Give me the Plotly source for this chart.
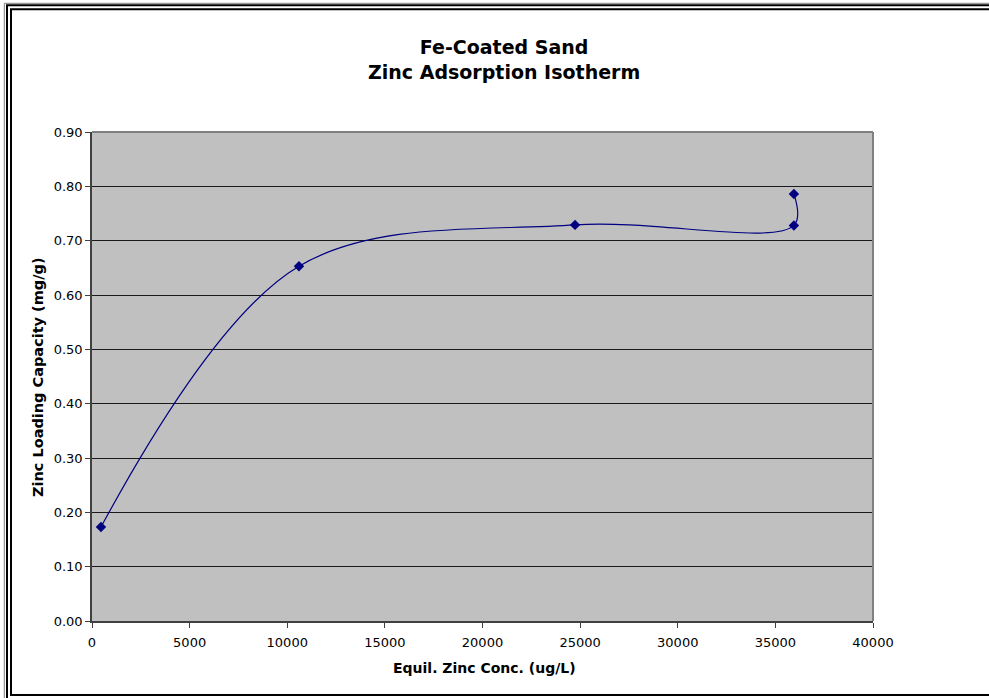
import plotly.graph_objects as go

# Equilibrium zinc concentration (ug/L) vs. zinc loading (mg/g)
equil_conc = [460, 10600, 24740, 35950, 35950]
zinc_loading = [0.173, 0.653, 0.729, 0.728, 0.786]

x_ticks = [0, 5000, 10000, 15000, 20000, 25000, 30000, 35000, 40000]
y_ticks = [0.0, 0.1, 0.2, 0.3, 0.4, 0.5, 0.6, 0.7, 0.8, 0.9]

W, H = 989, 698
L, R, T, B = 92, 873, 132, 621  # plot area in pixels
PW, PH = R - L, B - T


def px(xp):
    return (xp - L) / PW


def py(yp):
    return (B - yp) / PH


FONT = "DejaVu Sans, Arial, sans-serif"

fig = go.Figure()
fig.add_trace(go.Scatter(
    x=equil_conc, y=zinc_loading,
    mode="lines+markers",
    line=dict(color="#000080", width=1.2, shape="spline", smoothing=1.0),
    marker=dict(symbol="diamond", size=8, color="#000080"),
    showlegend=False, hoverinfo="x+y",
))

fig.update_layout(
    width=W, height=H,
    margin=dict(l=L, r=W - R, t=T, b=H - B, pad=0),
    paper_bgcolor="white",
    plot_bgcolor="#C0C0C0",
    font=dict(family=FONT, size=12.5, color="black"),
    xaxis=dict(
        range=[0, 40000], tickvals=x_ticks, ticktext=[str(v) for v in x_ticks],
        showgrid=False, zeroline=False,
        showline=True, linecolor="#404040", linewidth=1.5,
        ticks="outside", ticklen=5, tickcolor="#404040", tickwidth=1,
        ticklabelstandoff=4,
        tickfont=dict(family=FONT, size=13, color="black"),
        fixedrange=True,
    ),
    yaxis=dict(
        range=[0, 0.9], tickvals=y_ticks, ticktext=[f"{v:.2f}" for v in y_ticks],
        showgrid=True, gridcolor="#1a1a1a", gridwidth=1, zeroline=False,
        showline=True, linecolor="#404040", linewidth=1.5,
        ticks="outside", ticklen=5, tickcolor="#404040", tickwidth=1,
        tickfont=dict(family=FONT, size=13, color="black"),
        fixedrange=True,
    ),
)

shapes = []
# Plot-area frame: gray top and right edges
shapes.append(dict(type="line", xref="paper", yref="paper", x0=0, x1=1, y0=1, y1=1,
                   line=dict(color="#808080", width=2), layer="above"))
shapes.append(dict(type="line", xref="paper", yref="paper", x0=1, x1=1, y0=0, y1=1,
                   line=dict(color="#808080", width=2), layer="above"))
# Chart border: thin gray outer line and a black double line
shapes.append(dict(type="rect", xref="paper", yref="paper",
                   x0=px(4.3), x1=px(1010), y0=py(3.3), y1=py(720),
                   line=dict(color="#808080", width=1)))
shapes.append(dict(type="rect", xref="paper", yref="paper",
                   x0=px(7), x1=px(1010), y0=py(5.3), y1=py(720),
                   line=dict(color="black", width=2)))
shapes.append(dict(type="rect", xref="paper", yref="paper",
                   x0=px(11), x1=px(1010), y0=py(9.3), y1=py(695),
                   line=dict(color="black", width=2)))
fig.update_layout(shapes=shapes)

annotations = [
    dict(text="<b>Fe-Coated Sand</b><br><b>Zinc Adsorption Isotherm</b>",
         xref="paper", yref="paper", x=px(504), y=py(60),
         xanchor="center", yanchor="middle", showarrow=False,
         font=dict(family=FONT, size=19, color="black")),
    dict(text="<b>Equil. Zinc Conc. (ug/L)</b>",
         xref="paper", yref="paper", x=px(484), y=py(668),
         xanchor="center", yanchor="middle", showarrow=False,
         font=dict(family=FONT, size=14, color="black")),
    dict(text="<b>Zinc Loading Capacity (mg/g)</b>",
         xref="paper", yref="paper", x=px(38), y=py(377),
         xanchor="center", yanchor="middle", showarrow=False, textangle=-90,
         font=dict(family=FONT, size=14.5, color="black")),
]
fig.update_layout(annotations=annotations)

fig.write_html("out.html", config={"displayModeBar": False})
